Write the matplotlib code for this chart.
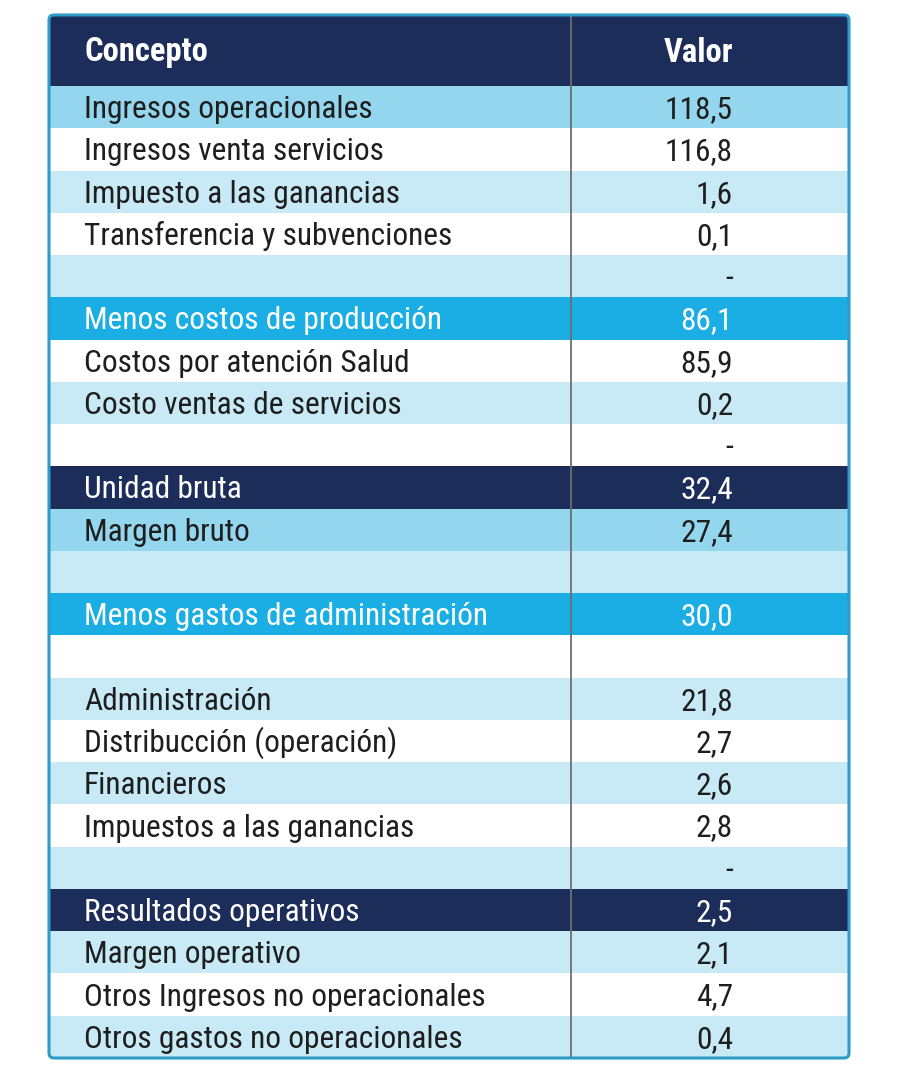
import matplotlib
matplotlib.use("Agg")
import matplotlib.pyplot as plt
from matplotlib import font_manager
from matplotlib.patches import Rectangle, FancyBboxPatch

# ---------------- data ----------------
encabezados = ["Concepto", "Valor"]
conceptos = [
    "Ingresos operacionales",
    "Ingresos venta servicios",
    "Impuesto a las ganancias",
    "Transferencia y subvenciones",
    "",
    "Menos costos de producción",
    "Costos por atención Salud",
    "Costo ventas de servicios",
    "",
    "Unidad bruta",
    "Margen bruto",
    "",
    "Menos gastos de administración",
    "",
    "Administración",
    "Distribucción (operación)",
    "Financieros",
    "Impuestos a las ganancias",
    "",
    "Resultados operativos",
    "Margen operativo",
    "Otros Ingresos no operacionales",
    "Otros gastos no operacionales",
]
valores = [
    "118,5", "116,8", "1,6", "0,1", "-",
    "86,1", "85,9", "0,2", "-",
    "32,4", "27,4", "",
    "30,0", "",
    "21,8", "2,7", "2,6", "2,8", "-",
    "2,5", "2,1", "4,7", "0,4",
]
# row kind: m = medium blue, w = white, l = light blue, b = bright blue, n = navy
tipo_fila = ["m", "w", "l", "w", "l",
             "b", "w", "l", "w",
             "n", "m", "l",
             "b", "w",
             "l", "w", "l", "w", "l",
             "n", "l", "w", "l"]

# ---------------- style ----------------
FILL = {"m": "#93D6ED", "w": "#FFFFFF", "l": "#C7EAF6", "b": "#1AAEE5", "n": "#1C2D5A"}
TXT = {"m": "#1E1E1E", "w": "#1E1E1E", "l": "#1E1E1E", "b": "#FFFFFF", "n": "#FFFFFF"}
NAVY = "#1C2D5A"
BORDER = "#2E9CC8"

available = {f.name for f in font_manager.fontManager.ttflist}
family = "Roboto"
size = 20.0
for cand, sz in [("Roboto Condensed", 22.6), ("Liberation Sans Narrow", 21.0), ("Roboto", 19.5)]:
    if cand in available:
        family, size = cand, sz
        break
plt.rcParams["font.family"] = [family, "DejaVu Sans"]

W, H = 900, 1075
fig = plt.figure(figsize=(W / 100, H / 100), dpi=100)
ax = fig.add_axes([0, 0, 1, 1])
ax.set_xlim(0, W)
ax.set_ylim(H, 0)
ax.axis("off")

left, right = 49, 849
top, bottom = 15, 1058
head_bot = 86
col_x = 571
label_x = 84
value_x = 733
n = len(conceptos)
rh = (bottom - head_bot) / n
cap_half = 11.0

# header
ax.add_patch(Rectangle((left, top), right - left, head_bot - top, facecolor=NAVY, edgecolor="none", zorder=1))
hc = (top + head_bot) / 2
ax.text(label_x, hc + cap_half, encabezados[0], color="white", fontsize=size * 1.04, fontweight="bold",
        ha="left", va="baseline", zorder=4)
ax.text(value_x, hc + cap_half, encabezados[1], color="white", fontsize=size * 1.04, fontweight="bold",
        ha="right", va="baseline", zorder=4)

for i, (c, v, t) in enumerate(zip(conceptos, valores, tipo_fila)):
    y0 = head_bot + i * rh
    ax.add_patch(Rectangle((left, y0), right - left, rh, facecolor=FILL[t], edgecolor="none", zorder=1))
    yb = y0 + rh / 2 + cap_half
    if c:
        ax.text(label_x, yb, c, color=TXT[t], fontsize=size, ha="left", va="baseline", zorder=4)
    if v:
        ax.text(value_x, yb, v, color=TXT[t], fontsize=size, ha="right", va="baseline", zorder=4)

# column divider
ax.plot([col_x, col_x], [top, bottom], color="#6E6E6E", lw=1.3, zorder=3)

# outer rounded border
ax.add_patch(FancyBboxPatch((left, top), right - left, bottom - top,
                            boxstyle="round,pad=0,rounding_size=5",
                            facecolor="none", edgecolor=BORDER, lw=2.2, zorder=5))

fig.savefig("out.png", dpi=100, facecolor="white")
